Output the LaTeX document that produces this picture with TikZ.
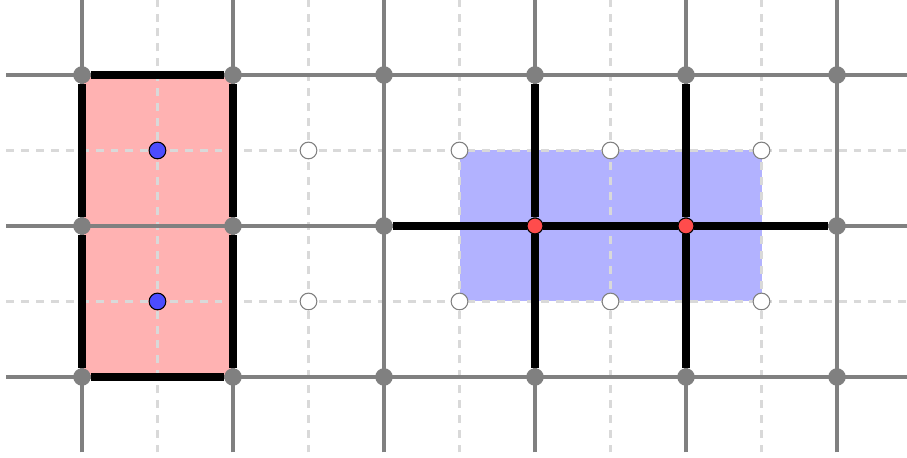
\documentclass[tikz,border=0pt]{standalone}
\usepackage{tikz}
\usetikzlibrary{positioning}

\begin{document}
\begin{tikzpicture}[
    reticolo/.style={gray, line width=1.25pt},
    duale/.style={gray!30, line width=1.2pt, dash pattern=on 3pt off 2.6pt},
    lato/.style={black, line width=3pt},
    vertice/.style={circle, fill=gray, inner sep=0pt, minimum size=6.6pt},
    vuoto/.style={circle, fill=white, draw=gray, line width=0.4pt, inner sep=0pt, minimum size=6.3pt},
    carica/.style={circle, fill=blue!70, draw=black, line width=0.4pt, inner sep=0pt, minimum size=6.3pt},
    difetto/.style={circle, fill=red!70, draw=black, line width=0.4pt, inner sep=0pt, minimum size=6pt}
]
    \useasboundingbox (-1.086,-1.073) rectangle (10.927,4.993);

    % Regioni colorate
    \fill[red!30] (0,0) rectangle (2,4);
    \fill[blue!30] (5,1) rectangle (9,3);

    % Reticolo duale (tratteggiato)
    \foreach \x in {1,3,...,9} \draw[duale] (\x,-1) -- (\x,5);
    \foreach \y in {1,3} \draw[duale] (-1,\y) -- (11,\y);

    % Reticolo
    \foreach \x in {0,2,...,10} \draw[reticolo] (\x,-1) -- (\x,5);
    \foreach \y in {0,2,4} \draw[reticolo] (-1,\y) -- (11,\y);

    % Vertici del reticolo
    \foreach \x in {0,2,4,10} \foreach \y in {0,2,4}
        \node[vertice] (v-\x-\y) at (\x,\y) {};
    \foreach \x in {6,8} \foreach \y in {0,4}
        \node[vertice] (v-\x-\y) at (\x,\y) {};
    \node[difetto] (d-6) at (6,2) {};
    \node[difetto] (d-8) at (8,2) {};

    % Vertici del duale
    \foreach \x in {3,5,7,9} \foreach \y in {1,3}
        \node[vuoto] (w-\x-\y) at (\x,\y) {};
    \node[carica] (c-1) at (1,1) {};
    \node[carica] (c-3) at (1,3) {};

    % Lati spessi
    \draw[lato] (v-0-0) -- (v-0-2) -- (v-0-4) -- (v-2-4) -- (v-2-2) -- (v-2-0) -- (v-0-0);
    \draw[lato] (v-4-2) -- (d-6) -- (d-8) -- (v-10-2);
    \draw[lato] (v-6-0) -- (d-6) -- (v-6-4);
    \draw[lato] (v-8-0) -- (d-8) -- (v-8-4);

\end{tikzpicture}
\end{document}
